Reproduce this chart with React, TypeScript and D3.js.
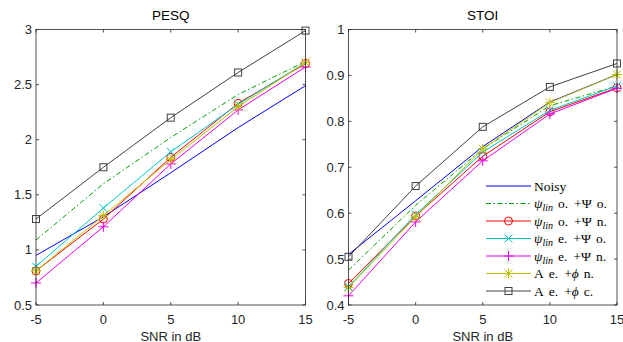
import React from "react";
import { scaleLinear, line } from "d3";

const snr = [-5, 0, 5, 10, 15];

const seriesNames = ["noisy", "linOO", "linON", "linEO", "linEN", "aeN", "aeC"];

// PESQ values
const pesqNoisy = [0.95, 1.3, 1.7, 2.11, 2.49];
const pesqLinOO = [1.09, 1.6, 2.02, 2.41, 2.71];
const pesqLinON = [0.81, 1.28, 1.84, 2.33, 2.69];
const pesqLinEO = [0.85, 1.38, 1.89, 2.32, 2.7];
const pesqLinEN = [0.7, 1.21, 1.78, 2.27, 2.66];
const pesqAeN = [0.81, 1.31, 1.82, 2.3, 2.7];
const pesqAeC = [1.28, 1.75, 2.2, 2.61, 2.99];

// STOI values
const stoiNoisy = [0.51, 0.627, 0.745, 0.842, 0.902];
const stoiLinOO = [0.476, 0.617, 0.74, 0.834, 0.877];
const stoiLinON = [0.447, 0.594, 0.724, 0.821, 0.873];
const stoiLinEO = [0.44, 0.597, 0.733, 0.824, 0.877];
const stoiLinEN = [0.42, 0.581, 0.714, 0.816, 0.872];
const stoiAeN = [0.438, 0.592, 0.74, 0.841, 0.902];
const stoiAeC = [0.505, 0.659, 0.788, 0.875, 0.926];

const pesqTicks = [0.5, 1, 1.5, 2, 2.5, 3];
const stoiTicks = [0.4, 0.5, 0.6, 0.7, 0.8, 0.9, 1];

const styles: Record<string, { color: string; dash?: string; marker: string }> = {
  noisy: { color: "#0000ff", marker: "none" },
  linOO: { color: "#00a000", dash: "5,2.5,1.5,2.5", marker: "none" },
  linON: { color: "#ff0000", marker: "o" },
  linEO: { color: "#00c8c8", marker: "x" },
  linEN: { color: "#ee00ee", marker: "+" },
  aeN: { color: "#c0c000", marker: "*" },
  aeC: { color: "#404040", marker: "s" },
};

const axisColor = "#262626";

const Marker = ({ type, x, y, color }: { type: string; x: number; y: number; color: string }) => {
  const s = 4;
  if (type === "o") return <circle cx={x} cy={y} r={4} fill="none" stroke={color} />;
  if (type === "s") return <rect x={x - 3.5} y={y - 3.5} width={7} height={7} fill="none" stroke={color} />;
  if (type === "x")
    return <path d={`M${x - s},${y - s}L${x + s},${y + s}M${x - s},${y + s}L${x + s},${y - s}`} stroke={color} />;
  if (type === "+")
    return <path d={`M${x - 5},${y}L${x + 5},${y}M${x},${y - 5}L${x},${y + 5}`} stroke={color} />;
  if (type === "*")
    return (
      <path
        d={`M${x - 5},${y}L${x + 5},${y}M${x},${y - 5}L${x},${y + 5}M${x - s},${y - s}L${x + s},${y + s}M${x - s},${y + s}L${x + s},${y - s}`}
        stroke={color}
      />
    );
  return null;
};

const Panel = ({ left, right, top, bottom, domain, ticks, data, title, fmt }: any) => {
  const x = scaleLinear().domain([-5, 15]).range([left, right]);
  const y = scaleLinear().domain(domain).range([bottom, top]);
  const path = line<number>()
    .x((d, i) => x(snr[i]))
    .y((d) => y(d));
  return (
    <g>
      <rect x={left} y={top} width={right - left} height={bottom - top} fill="white" />
      {snr.map((t) => (
        <g key={t}>
          <line x1={x(t)} x2={x(t)} y1={bottom} y2={bottom - 3} stroke={axisColor} strokeWidth={0.8} />
          <line x1={x(t)} x2={x(t)} y1={top} y2={top + 3} stroke={axisColor} strokeWidth={0.8} />
          <text x={x(t)} y={bottom + 19} textAnchor="middle" fontSize={13} fill={axisColor}>
            {t}
          </text>
        </g>
      ))}
      {ticks.map((t: number) => (
        <g key={t}>
          <line x1={left} x2={left + 3} y1={y(t)} y2={y(t)} stroke={axisColor} strokeWidth={0.8} />
          <line x1={right} x2={right - 3} y1={y(t)} y2={y(t)} stroke={axisColor} strokeWidth={0.8} />
          <text x={left - 4} y={y(t) + 4.5} textAnchor="end" fontSize={13} fill={axisColor}>
            {fmt(t)}
          </text>
        </g>
      ))}
      {seriesNames.map((k) => (
        <g key={k}>
          <path d={path(data[k]) || ""} fill="none" stroke={styles[k].color} strokeDasharray={styles[k].dash} />
          {data[k].map((v: number, i: number) => (
            <Marker key={i} type={styles[k].marker} x={x(snr[i])} y={y(v)} color={styles[k].color} />
          ))}
        </g>
      ))}
      <rect x={left} y={top} width={right - left} height={bottom - top} fill="none" stroke={axisColor} strokeWidth={0.8} />
      <text x={(left + right) / 2} y={top - 10} textAnchor="middle" fontSize={13.5} fill="#000">
        {title}
      </text>
      <text x={(left + right) / 2} y={bottom + 35.5} textAnchor="middle" fontSize={13} fill={axisColor}>
        SNR in dB
      </text>
    </g>
  );
};

const psi = (a: string, b: string) => (
  <>
    <tspan fontStyle="italic">ψ</tspan>
    <tspan fontStyle="italic" fontSize={10} dy={3}>lin</tspan>
    <tspan dy={-3} dx={5}>{a}</tspan>
    <tspan dx={6}>+Ψ</tspan>
    <tspan dx={5}>{b}</tspan>
  </>
);

const ae = (b: string) => (
  <>
    <tspan>A</tspan>
    <tspan dx={5}>e.</tspan>
    <tspan dx={6}>+</tspan>
    <tspan fontStyle="italic">ϕ</tspan>
    <tspan dx={5}>{b}</tspan>
  </>
);

const legendLabels: Record<string, any> = {
  noisy: <tspan>Noisy</tspan>,
  linOO: psi("o.", "o."),
  linON: psi("o.", "n."),
  linEO: psi("e.", "o."),
  linEN: psi("e.", "n."),
  aeN: ae("n."),
  aeC: ae("c."),
};

export default function App() {
  const pesq = {
    noisy: pesqNoisy, linOO: pesqLinOO, linON: pesqLinON, linEO: pesqLinEO,
    linEN: pesqLinEN, aeN: pesqAeN, aeC: pesqAeC,
  };
  const stoi = {
    noisy: stoiNoisy, linOO: stoiLinOO, linON: stoiLinON, linEO: stoiLinEO,
    linEN: stoiLinEN, aeN: stoiAeN, aeC: stoiAeC,
  };
  return (
    <svg
      width={623}
      height={342}
      style={{ position: "absolute", left: 0, top: 0, background: "white", fontFamily: "'Liberation Sans', Arial, sans-serif" }}
    >
      <Panel left={36} right={305.5} top={29.5} bottom={305} domain={[0.5, 3]} ticks={pesqTicks}
        data={pesq} title="PESQ" fmt={(t: number) => String(t)} />
      <Panel left={348.5} right={617} top={29.5} bottom={305} domain={[0.4, 1]} ticks={stoiTicks}
        data={stoi} title="STOI" fmt={(t: number) => (t === 1 ? "1" : t.toFixed(1))} />
      <g fontFamily="'Liberation Serif', 'DejaVu Serif', serif" fontSize={13.5}>
        {seriesNames.map((k, i) => {
          const yy = 186 + i * 17.5;
          const st = styles[k];
          return (
            <g key={k}>
              <line x1={486} x2={531} y1={yy} y2={yy} stroke={st.color} strokeDasharray={st.dash} />
              <Marker type={st.marker} x={508.5} y={yy} color={st.color} />
              <text x={534} y={yy + 4.5} fill="#000">{legendLabels[k]}</text>
            </g>
          );
        })}
      </g>
    </svg>
  );
}
